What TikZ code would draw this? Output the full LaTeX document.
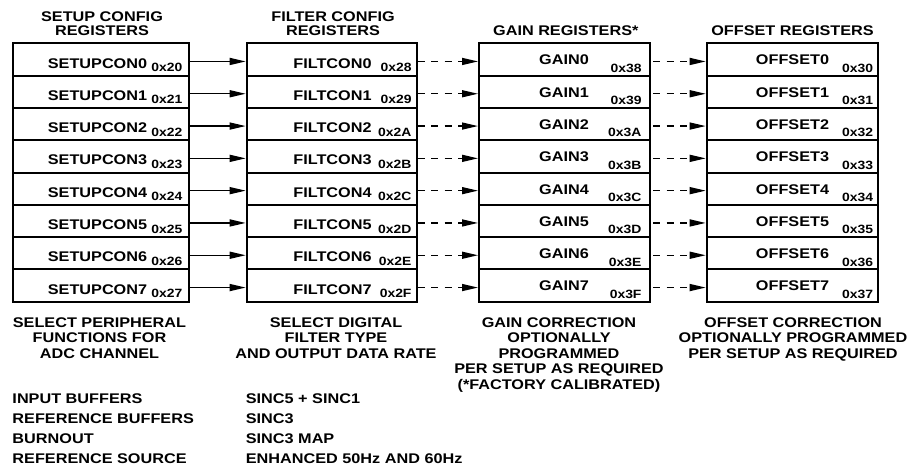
\documentclass[tikz,border=0pt]{standalone}
\usepackage{fontspec}
\setmainfont{Liberation Sans}[FakeStretch=1.16]
\usetikzlibrary{arrows.meta}

\begin{document}
\begin{tikzpicture}[x=1pt,y=-1pt,
  font=\fontsize{14}{14}\selectfont\bfseries,
  reg/.style={draw,line width=2pt,minimum height=32.3pt,inner sep=0pt},
  lbl/.style={anchor=base,inner sep=0pt},
  addr/.style={anchor=base east,inner sep=0pt,font=\fontsize{12}{12}\selectfont\bfseries},
  solidarr/.style={line width=1.4pt,-{Triangle[length=16pt,width=7pt]}},
  dasharr/.style={solidarr,dash pattern=on 7pt off 6.5pt},
  note/.style={anchor=base,align=center,inner sep=0pt,font=\fontsize{14}{15.5}\selectfont\bfseries},
  item/.style={anchor=base west,inner sep=0pt}]
  \useasboundingbox (0,0) rectangle (911,472);
  % column headings (base = last line)
  \node[note,font=\fontsize{14}{14}\selectfont\bfseries] (hsu) at (102,35) {SETUP CONFIG\\REGISTERS};
  \node[note,font=\fontsize{14}{14}\selectfont\bfseries] (hfc) at (333,35) {FILTER CONFIG\\REGISTERS};
  \node[note] (hgn) at (565.8,35) {GAIN REGISTERS*};
  \node[note] (hos) at (792.5,35) {OFFSET REGISTERS};
  % register rows
  \foreach \i/\sa/\fa/\ga/\oa in {0/20/28/38/30,1/21/29/39/31,2/22/2A/3A/32,3/23/2B/3B/33,
                                  4/24/2C/3C/34,5/25/2D/3D/35,6/26/2E/3E/36,7/27/2F/3F/37} {
    \node[reg,minimum width=176.3pt] (su\i) at (100.85,59.45+32.3*\i) {};
    \node[reg,minimum width=170pt]   (fc\i) at (331.7,59.45+32.3*\i) {};
    \node[reg,minimum width=171pt]   (gn\i) at (564.5,59.45+32.3*\i) {};
    \node[reg,minimum width=171pt]   (os\i) at (792.2,59.45+32.3*\i) {};
    \node[lbl]  (sul\i) at (97.5,68+32.3*\i) {SETUPCON\i};
    \node[addr] (sua\i) at (182.5,71.5+32.3*\i) {0x\sa};
    \node[lbl]  (fcl\i) at (332.5,68+32.3*\i) {FILTCON\i};
    \node[addr] (fca\i) at (411.7,71.5+32.3*\i) {0x\fa};
    \node[lbl]  (gnl\i) at (564,64.8+32.3*\i) {GAIN\i};
    \node[addr] (gna\i) at (641.7,72.3+32.3*\i) {0x\ga};
    \node[lbl]  (osl\i) at (792.5,64.8+32.3*\i) {OFFSET\i};
    \node[addr] (osa\i) at (873.3,72.3+32.3*\i) {0x\oa};
    \draw[solidarr] ([yshift=-2pt]su\i.east) -- ([yshift=-2pt]fc\i.west);
    \draw[dasharr]  ([yshift=-2pt]fc\i.east) -- ([yshift=-2pt]gn\i.west);
    \draw[dasharr]  ([yshift=-2pt,xshift=2pt]gn\i.east) -- ([yshift=-2pt]os\i.west);
  }
  % descriptions (base = last line)
  \node[note] (nsu) at (99.5,358.3) {SELECT PERIPHERAL\\FUNCTIONS FOR\\ADC CHANNEL};
  \node[note] (nfc) at (336,358.3) {SELECT DIGITAL\\FILTER TYPE\\AND OUTPUT DATA RATE};
  \node[note] (ngn) at (559,389.3) {GAIN CORRECTION\\OPTIONALLY\\PROGRAMMED\\PER SETUP AS REQUIRED\\(*FACTORY CALIBRATED)};
  \node[note] (nos) at (793,358.3) {OFFSET CORRECTION\\OPTIONALLY PROGRAMMED\\PER SETUP AS REQUIRED};
  % option lists
  \foreach \j/\a/\b in {0/INPUT BUFFERS/SINC5 + SINC1,1/REFERENCE BUFFERS/SINC3,
                        2/BURNOUT/SINC3 MAP,3/REFERENCE SOURCE/ENHANCED 50Hz AND 60Hz} {
    \node[item] (pa\j) at (12.3,403.3+20*\j) {\a};
    \node[item] (pb\j) at (245.7,403.3+20*\j) {\b};
  }
\end{tikzpicture}
\end{document}
